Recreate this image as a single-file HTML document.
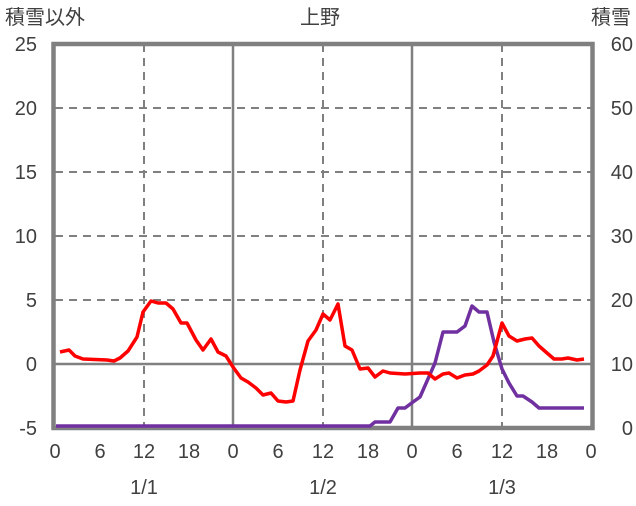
<!DOCTYPE html>
<html><head><meta charset="utf-8"><style>
body{margin:0;background:#fff}
svg text{font-family:"Liberation Sans","Noto Sans CJK JP",sans-serif;fill:#404040;font-size:20px}
</style></head><body>
<svg width="636" height="501" viewBox="0 0 636 501" xmlns="http://www.w3.org/2000/svg">
<g stroke="#808080" stroke-width="2" stroke-dasharray="8,6" fill="none">
<line x1="55" y1="108" x2="591" y2="108"/><line x1="55" y1="172" x2="591" y2="172"/>
<line x1="55" y1="236" x2="591" y2="236"/><line x1="55" y1="300" x2="591" y2="300"/>
<line x1="144" y1="44" x2="144" y2="428"/><line x1="323" y1="44" x2="323" y2="428"/><line x1="502" y1="44" x2="502" y2="428"/>
</g>
<g stroke="#808080" stroke-width="2.5">
<line x1="233" y1="44" x2="233" y2="428"/><line x1="412" y1="44" x2="412" y2="428"/>
<line x1="55" y1="364" x2="591" y2="364"/>
</g>
<rect x="53.5" y="44" width="539" height="384" fill="none" stroke="#808080" stroke-width="4.5"/>
<polyline fill="none" stroke="#7030a0" stroke-width="3.5" stroke-linejoin="round" points="56,426 370,426 375,422 390,422 398,408 405,408 413,402 420,397 435,363 443,332 457,332 465,326 472,306 479,312 487,312 494,342 502,369 509,383 517,396 523,396 532,402 539,408 584,408"/>
<polyline fill="none" stroke="#ff0000" stroke-width="3.5" stroke-linejoin="round" points="60,352 69,350 75,356 83,359 107,360 114,361 120,358 128,351 137,337 143,312 151,301 158,303 166,303 173,309 181,323 187,323 196,340 203,350 211,339 218,352 226,356 233,367 241,378 248,382 256,388 263,395 271,393 278,401 286,402 293,401 300,370 308,341 316,330 323,314 330,320 338,304 345,346 352,350 360,369 368,368 375,377 383,371 390,373 405,374 420,373 428,373 435,379 443,374 449,373 457,378 465,375 473,374 479,371 487,365 493,356 502,323 509,336 517,341 525,339 532,338 539,346 547,353 554,359 562,359 568,358 577,360 584,359"/>
<text x="5" y="24">積雪以外</text>
<text x="320" y="24" text-anchor="middle">上野</text>
<text x="631" y="24" text-anchor="end">積雪</text>
<g text-anchor="end">
<text x="37" y="51">25</text><text x="37" y="115">20</text><text x="37" y="179">15</text>
<text x="37" y="243">10</text><text x="37" y="307">5</text><text x="37" y="371">0</text><text x="37" y="435">-5</text>
</g>
<g text-anchor="end">
<text x="633" y="51">60</text><text x="633" y="115">50</text><text x="633" y="179">40</text>
<text x="633" y="243">30</text><text x="633" y="307">20</text><text x="633" y="371">10</text><text x="633" y="435">0</text>
</g>
<g text-anchor="middle">
<text x="55" y="458">0</text><text x="100" y="458">6</text><text x="144" y="458">12</text><text x="189" y="458">18</text>
<text x="233" y="458">0</text><text x="278" y="458">6</text><text x="323" y="458">12</text><text x="368" y="458">18</text>
<text x="412" y="458">0</text><text x="457" y="458">6</text><text x="502" y="458">12</text><text x="547" y="458">18</text>
<text x="591" y="458">0</text>
<text x="144" y="494">1/1</text><text x="323" y="494">1/2</text><text x="502" y="494">1/3</text>
</g>
</svg>
</body></html>
